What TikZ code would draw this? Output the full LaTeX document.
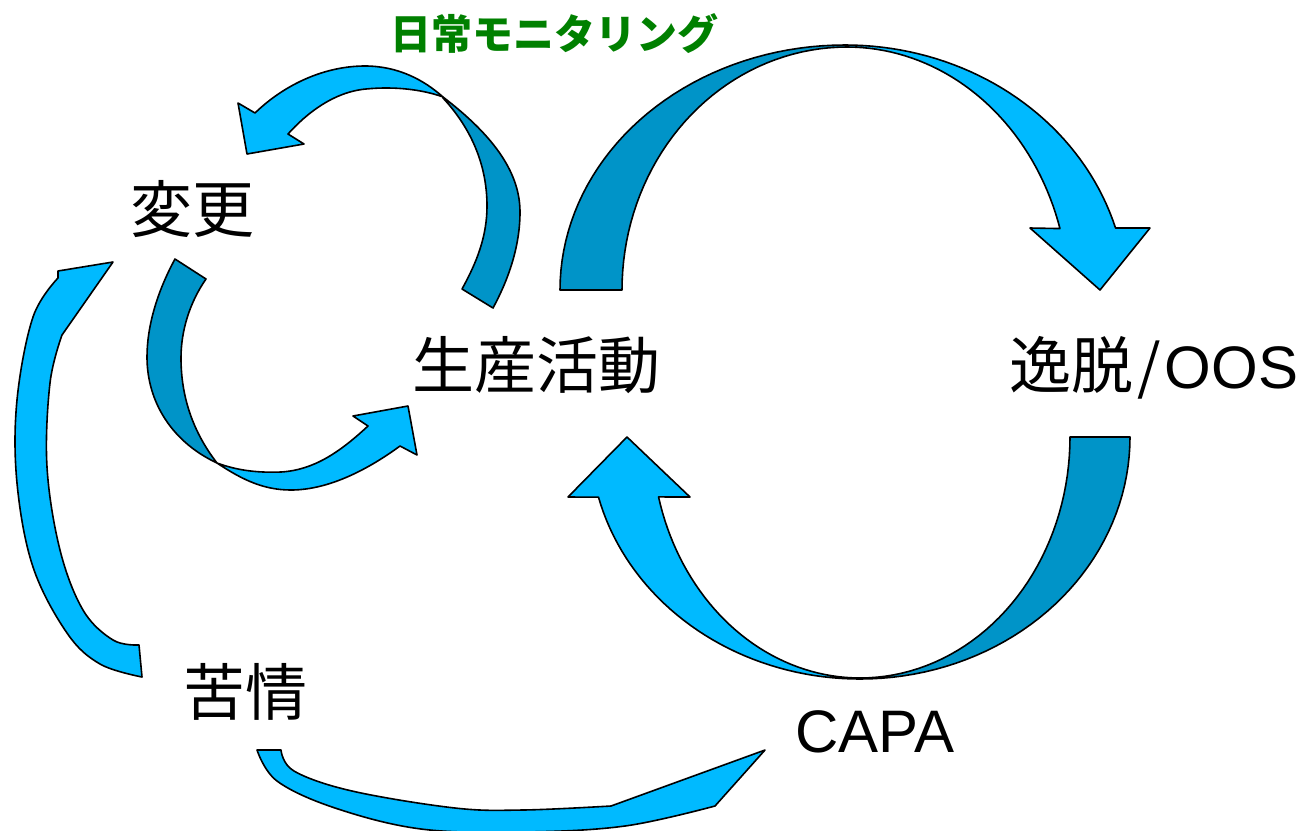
\documentclass[tikz,border=0pt]{standalone}
\usepackage{fontspec}
\setmainfont{Liberation Sans}
\newfontfamily\jp{Noto Sans CJK JP}
\definecolor{lightb}{RGB}{0,186,255}
\definecolor{darkb}{RGB}{0,148,200}
\definecolor{titlegreen}{RGB}{0,128,0}
\tikzset{
  front/.style={fill=lightb, draw=black, line width=1.6pt, line join=round},
  back/.style={fill=darkb, draw=black, line width=1.6pt, line join=round},
  bigtext/.style={inner sep=0pt, font=\jp\fontsize{62}{70}\selectfont},
}
\begin{document}
\begin{tikzpicture}[x=1pt,y=-1pt]
\useasboundingbox (0,0) rectangle (1305,830);
\clip (0,0) rectangle (1305,830);

% Arrow A: production -> deviation (top big)
\draw[back] plot[domain=180:270,samples=40,variable=\t] ({845+285*cos(\t)},{290+245*sin(\t)})
  -- plot[domain=270:180,samples=40,variable=\t] ({847+225*cos(\t)},{290+243*sin(\t)}) -- cycle;
\draw[front] plot[domain=270:343.6,samples=40,variable=\t] ({845+282*cos(\t)},{300+255*sin(\t)})
  -- (1150,228) -- (1100,290) -- (1030,228)
  -- plot[domain=343.6:270,samples=40,variable=\t] ({847+222*cos(\t)},{300+253*sin(\t)}) -- cycle;

% Arrow B: deviation -> production (bottom big)
\draw[back] plot[domain=0:90,samples=40,variable=\t] ({860+270*cos(\t)},{437+242*sin(\t)})
  -- plot[domain=90:0,samples=40,variable=\t] ({860+210*cos(\t)},{437+241*sin(\t)}) -- cycle;
\draw[front] plot[domain=90:165.6,samples=40,variable=\t] ({860+270*cos(\t)},{437+242*sin(\t)})
  -- (568,497) -- (627,437) -- (690,497)
  -- plot[domain=165.6:90,samples=40,variable=\t] ({860+208*cos(\t)},{437+241*sin(\t)}) -- cycle;

% Arrow C: production -> change (top small)
\draw[back] (443,97) .. controls (490,133) and (520,170) .. (520,212)
  .. controls (520,250) and (506,284) .. (493,308) -- (462,289)
  .. controls (477,262) and (487,236) .. (487,206)
  .. controls (487,162) and (469,126) .. (443,98) -- cycle;
\draw[front] (255,113) .. controls (285,84) and (325,66) .. (365,66)
  .. controls (398,66) and (424,80) .. (443,97)
  .. controls (424,90) and (396,86) .. (366,89)
  .. controls (333,92) and (306,114) .. (288,134)
  -- (304,144) -- (247,154) -- (238,103) -- cycle;

% Arrow D: change -> production (lower small)
\draw[back] (175,259) .. controls (156,294) and (147,328) .. (147,357)
  .. controls (147,402) and (172,442) .. (217,463)
  .. controls (193,432) and (181,397) .. (181,358)
  .. controls (181,330) and (190,302) .. (206,279) -- cycle;
\draw[front] (217,463) .. controls (244,481) and (265,490) .. (291,490)
  .. controls (330,490) and (370,468) .. (400,446)
  -- (417,455) -- (408,406) -- (353,416) -- (368,426)
  .. controls (340,452) and (314,470) .. (281,472)
  .. controls (256,473) and (236,470) .. (217,463) -- cycle;

% Arrow E: complaint -> change (left)
\draw[front] (58,271) -- plot[smooth,tension=0.6] coordinates {(58,278) (33,317) (17,400) (17,483) (33,567) (67,633) (100,664) (142,677)}
  -- (139,645)
  -- plot[smooth,tension=0.6] coordinates {(139,645) (113,640) (83,610) (60,550) (47,467) (50,383) (62,335)}
  -- (113,262) -- cycle;

% Arrow F: CAPA -> complaint (bottom)
\draw[front] (257,750) -- plot[smooth,tension=0.6] coordinates {(281,750) (294,771) (352,791) (455,808) (523,810) (611,806)}
  -- (765,750) -- (715,806)
  -- plot[smooth,tension=0.6] coordinates {(715,806) (625,826) (523,832) (421,829) (335,808) (277,781) (257,750)} -- cycle;

% Texts
\node[inner sep=0pt, text=titlegreen, font=\jp\bfseries\fontsize{41}{46}\selectfont] (title) at (554,34) {日常モニタリング};
\node[bigtext] (change) at (192,209) {変更};
\node[bigtext] (prod) at (536,365) {生産活動};
\node[bigtext] (dev) at (1154,368) {逸脱\makebox[0.5em]{\fontsize{60}{70}\selectfont/}\fontspec{Liberation Sans}\fontsize{60}{70}\selectfont OOS};
\node[bigtext] (compl) at (245,692) {苦情};
\node[inner sep=0pt, font=\fontsize{60}{70}\selectfont] (capa) at (875,732) {CAPA};
\end{tikzpicture}
\end{document}
